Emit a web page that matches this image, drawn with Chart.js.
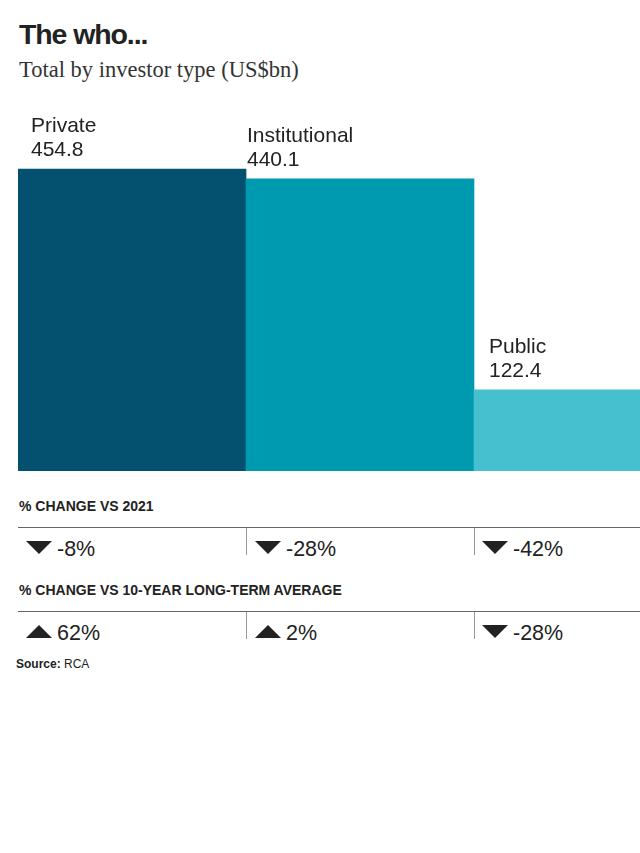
<!DOCTYPE html>
<html>
<head>
  <meta charset="UTF-8">
  <title>The who...</title>
  <script src="https://cdn.jsdelivr.net/npm/chart.js"></script>
  <style>
    body { margin: 0; background: #fff; font-family: "Liberation Sans", Arial, sans-serif; color: #222; }
    #page { position: relative; width: 640px; height: 853px; overflow: hidden; }
    .title { position: absolute; left: 19px; top: 18px; font-size: 28.5px; font-weight: bold; letter-spacing: -1.1px; }
    .subtitle { position: absolute; left: 19px; top: 57px; font-family: "Liberation Serif", serif; font-size: 22.5px; color: #333; }
    #chartBox { position: absolute; left: 0; top: 90px; width: 640px; height: 381px; overflow: hidden; }
    .hdr { position: absolute; left: 19px; font-size: 14px; font-weight: bold; color: #222; }
    .rule { position: absolute; left: 18px; width: 622px; height: 0; border-top: 1.5px solid #666; }
    .sep { position: absolute; width: 0; height: 27px; border-left: 1.5px solid #999; }
    .cell { position: absolute; font-size: 21.5px; color: #222; white-space: nowrap; }
    .tri { display: inline-block; width: 0; height: 0; border-left: 13.5px solid transparent; border-right: 13.5px solid transparent; vertical-align: 2px; margin-right: 5px; }
    .down { border-top: 13px solid #222; }
    .up { border-bottom: 13px solid #222; }
    .source { position: absolute; left: 16px; top: 657px; font-size: 12px; color: #222; }
  </style>
</head>
<body>
<div id="page">
  <div class="title">The who...</div>
  <div class="subtitle">Total by investor type (US$bn)</div>
  <div id="chartBox"><canvas id="whoChart" width="702" height="381"></canvas></div>
  <div id="changes"></div>
  <div class="source"><b>Source:</b> RCA</div>
</div>

<script>
  // data
  const investorTypes = ['Private', 'Institutional', 'Public'];
  const totals = [454.8, 440.1, 122.4];
  const barColours = ['#03506f', '#009ab0', '#46c0cf'];
  const labelNudge = [13, 1, 15];

  const changeRows = ['% CHANGE VS 2021', '% CHANGE VS 10-YEAR LONG-TERM AVERAGE'];
  const changeVs2021 = [-8, -28, -42];
  const changeVsAverage = [62, 2, -28];

  // labels above each bar
  const barLabels = {
    id: 'barLabels',
    afterDatasetsDraw(chart) {
      const ctx = chart.ctx;
      const meta = chart.getDatasetMeta(0);
      ctx.save();
      ctx.fillStyle = '#222';
      ctx.textAlign = 'left';
      ctx.textBaseline = 'alphabetic';
      ctx.font = '21px "Liberation Sans", Arial, sans-serif';
      meta.data.forEach((bar, i) => {
        const left = bar.x - bar.width / 2 + labelNudge[i];
        ctx.fillText(investorTypes[i], left, bar.y - 37);
        ctx.fillText(totals[i].toFixed(1), left, bar.y - 13);
      });
      ctx.restore();
    }
  };

  new Chart(document.getElementById('whoChart'), {
    type: 'bar',
    data: {
      labels: investorTypes,
      datasets: [{
        data: totals,
        backgroundColor: barColours,
        borderWidth: 0,
        categoryPercentage: 1,
        barPercentage: 1
      }]
    },
    options: {
      responsive: false,
      animation: false,
      devicePixelRatio: 1,
      layout: { padding: { left: 18, right: 0, top: 49, bottom: 0 } },
      plugins: { legend: { display: false }, tooltip: { enabled: false } },
      scales: {
        x: { display: false },
        y: { display: false, min: 0, max: 500 }
      }
    },
    plugins: [barLabels]
  });

  // change rows below the chart
  const box = document.getElementById('changes');
  const colX = [26, 255, 482];
  const sepX = [246, 474];
  const rowTop = [498, 582];
  [changeVs2021, changeVsAverage].forEach((vals, r) => {
    const top = rowTop[r];
    let html = `<div class="hdr" style="top:${top}px">${changeRows[r]}</div>`;
    html += `<div class="rule" style="top:${top + 29}px"></div>`;
    sepX.forEach(x => { html += `<div class="sep" style="left:${x}px;top:${top + 30}px"></div>`; });
    vals.forEach((v, i) => {
      const dir = v < 0 ? 'down' : 'up';
      html += `<div class="cell" style="left:${colX[i]}px;top:${top + 39}px"><span class="tri ${dir}"></span>${v}%</div>`;
    });
    box.insertAdjacentHTML('beforeend', html);
  });
</script>
</body>
</html>
